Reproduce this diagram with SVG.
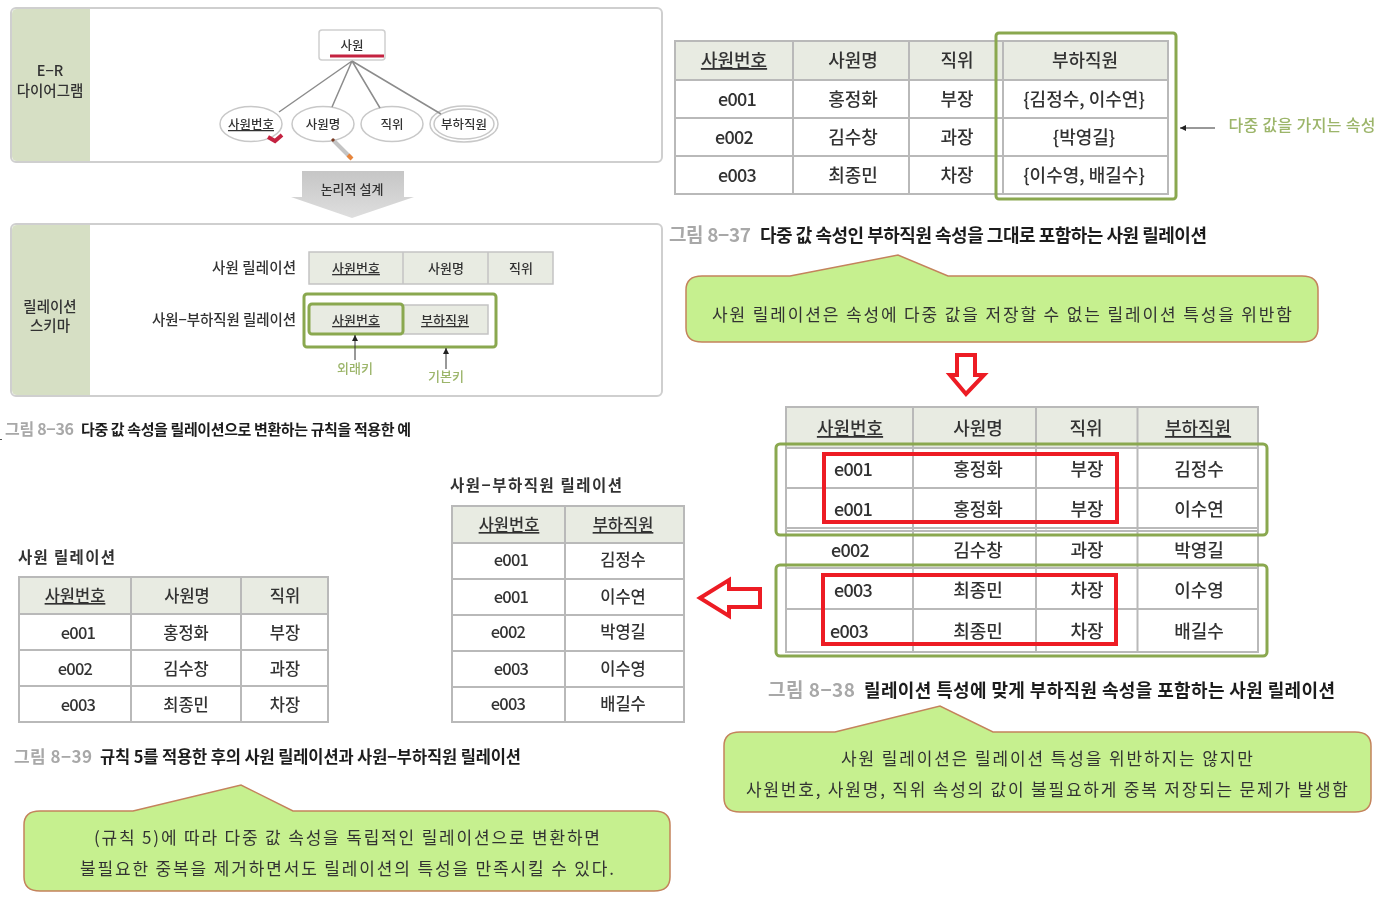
<svg xmlns="http://www.w3.org/2000/svg" width="1382" height="904" viewBox="0 0 1382 904">
<style>
text{font-family:"Noto Sans CJK KR","Noto Sans",sans-serif;fill:#333;text-anchor:middle}
.panel{fill:#fff;stroke:#cfcfcf;stroke-width:2}
.band{fill:#d6dfc4}
.hd{fill:#e8ebe2}
.grid{fill:none;stroke:#b9b9b9;stroke-width:2}
.green{fill:none;stroke:#8aa84f;stroke-width:3}
.red{fill:none;stroke:#ed1c24;stroke-width:4}
.redarrow{fill:#fff;stroke:#ed1c24;stroke-width:4}
.callout{fill:#c6f08f;stroke:#c4835c;stroke-width:1.5}
.fig{font-weight:700;fill:#a8a8a8;text-anchor:start}
.cap{font-weight:700;fill:#1e1e1e;text-anchor:start}
.t18{font-size:18px;font-weight:500}.t16{font-size:16.5px;font-weight:500}.t14{font-size:14.500px;font-weight:500}.t13{font-size:13px;font-weight:500}.t12{font-size:12.5px;font-weight:500}
.u{text-decoration:underline}
.l{text-anchor:start}.r{text-anchor:end}
.e{letter-spacing:-.8px}
.b{font-weight:700}
.hand{fill:#9cb56a;font-weight:500}
.conn{stroke:#8c8c8c;stroke-width:1.5;fill:none}
.attr{fill:#fff;stroke:#c8c8c8;stroke-width:1.5}
.arr{stroke:#333;stroke-width:1;fill:none;marker-end:url(#ah)}
.co{font-size:17px;fill:#333}
</style>
<defs>
<marker id="ah" markerWidth="7" markerHeight="7" refX="6" refY="3" orient="auto"><path d="M0 0L6 3L0 6Z" fill="#222"/></marker>
<linearGradient id="gd" x1="0" y1="0" x2="0" y2="1"><stop offset="0" stop-color="#c6c6c6"/><stop offset="1" stop-color="#dedede"/></linearGradient>
<filter id="soft" filterUnits="userSpaceOnUse" x="0" y="0" width="1382" height="904"><feGaussianBlur stdDeviation="0.4"/></filter>
</defs>
<rect width="1382" height="904" fill="#fff"/>
<g filter="url(#soft)">
<g id="er-panel">
<rect class="panel" x="11" y="8" width="651" height="154" rx="5"/>
<path class="band" d="M12 14Q12 9 17 9H90V161H17Q12 161 12 156Z"/>
<text class="t14" x="50" y="76">E−R</text>
<text class="t14" x="50" y="95.500">다이어그램</text>
</g>
<g id="entity">
<rect x="319" y="30" width="66" height="30" rx="3" fill="#fff" stroke="#cfcfcf" stroke-width="1.5"/>
<text class="t12" x="352" y="50">사원</text>
<path d="M330 56H384" stroke="#c4213f" stroke-width="3"/>
</g>
<g id="attr1">
<ellipse class="attr" cx="251" cy="124" rx="31" ry="17.5"/>
<text class="t12 u" x="251" y="129">사원번호</text>
<path d="M268 137L275 141L282 135" fill="none" stroke="#c4213f" stroke-width="4"/>
</g>
<g id="attr2">
<ellipse class="attr" cx="323" cy="124" rx="31" ry="17.5"/>
<text class="t12" x="323" y="129">사원명</text>
<path d="M333 140L351 158" stroke="#c4c4c4" stroke-width="4"/>
<path d="M348 155L352 159" stroke="#e8853a" stroke-width="4"/>
<path d="M332 139L334 141" stroke="#7a3a20" stroke-width="3"/>
</g>
<g id="attr3">
<ellipse class="attr" cx="392" cy="124" rx="31" ry="17.5"/>
<text class="t12" x="392" y="129">직위</text>
</g>
<g id="attr4">
<ellipse class="attr" cx="464" cy="124" rx="34" ry="18"/>
<ellipse class="attr" cx="464" cy="124" rx="30" ry="15"/>
<text class="t12" x="464" y="129">부하직원</text>
</g>
<g id="design-arrow">
<path d="M302 171H404V197H414L352 218L291 197H302Z" fill="url(#gd)"/>
<text class="t13" x="352" y="194">논리적 설계</text>
</g>

<g id="schema-panel">
<rect class="panel" x="11" y="224" width="651" height="172" rx="5"/>
<path class="band" d="M12 230Q12 225 17 225H90V395H17Q12 395 12 390Z"/>
<text class="t14" x="50" y="311.500">릴레이션</text>
<text class="t14" x="50" y="331">스키마</text>
<text class="t14 r" x="296" y="273" textLength="84">사원 릴레이션</text>
<text class="t14 r" x="296" y="325" textLength="144">사원−부하직원 릴레이션</text>
<rect class="hd" x="309" y="252" width="244" height="32"/>
<path class="grid" style="stroke-width:1.5;stroke:#c4c4c4" d="M309 252H553V284H309ZM403 252V284M488 252V284"/>
<text class="t13 u" x="356" y="273">사원번호</text>
<text class="t13" x="446" y="273">사원명</text>
<text class="t13" x="521" y="273">직위</text>
<rect class="hd" x="309" y="305" width="179" height="29"/>
<path class="grid" style="stroke-width:1.5;stroke:#c4c4c4" d="M403 305H488V334H403"/>
<text class="t13 u" x="356" y="325">사원번호</text>
<text class="t13 u" x="445" y="325">부하직원</text>
<rect class="green" x="304" y="294" width="192" height="53" rx="3"/>
<rect class="green" x="309" y="304" width="94" height="30" rx="3"/>
<text class="hand t13" x="355" y="373">외래키</text>
<text class="hand t13" x="446" y="381">기본키</text>
</g>
<g id="connectors">
<path class="conn" d="M352 61L279 112M352 61L332 107M352 61L380 108M352 61L441 114"/>
<path class="arr" d="M355 360V335"/>
<path class="arr" d="M446 369V348"/>
<path class="arr" d="M1215 128H1180"/>
</g>
<g id="caption-36">
<text class="fig" x="5" y="435" style="font-size:16px" textLength="69">그림 8−36</text>
<text class="cap" x="81" y="435" style="font-size:15px" textLength="330">다중 값 속성을 릴레이션으로 변환하는 규칙을 적용한 예</text>
<rect x="0" y="439" width="2" height="1" fill="#555"/>
</g>

<g id="table-37">
<rect class="hd" x="675" y="41" width="493" height="39"/>
<path class="grid" d="M675 41H1168V194H675ZM675 80H1168M675 118H1168M675 156H1168M793 41V194M909 41V194M1003 41V194"/>
<text class="t18 u" x="734" y="67">사원번호</text>
<text class="t18" x="853" y="67">사원명</text>
<text class="t18" x="957" y="67">직위</text>
<text class="t18" x="1085" y="67">부하직원</text>
<text class="t18 e" x="737" y="106">e001</text><text class="t18" x="853" y="106">홍정화</text><text class="t18" x="957" y="106">부장</text><text class="t18" x="1084" y="106">{김정수, 이수연}</text>
<text class="t18 e" x="734" y="144">e002</text><text class="t18" x="853" y="144">김수창</text><text class="t18" x="957" y="144">과장</text><text class="t18" x="1084" y="144">{박영길}</text>
<text class="t18 e" x="737" y="182">e003</text><text class="t18" x="853" y="182">최종민</text><text class="t18" x="957" y="182">차장</text><text class="t18" x="1084" y="182">{이수영, 배길수}</text>
<rect class="green" x="996" y="33" width="180" height="166" rx="3"/>
<text class="hand" x="1302" y="131" style="font-size:16px" textLength="147">다중 값을 가지는 속성</text>
</g>
<g id="caption-37">
<text class="fig" x="669" y="242" style="font-size:19px" textLength="82">그림 8−37</text>
<text class="cap" x="760" y="242" style="font-size:18px" textLength="447">다중 값 속성인 부하직원 속성을 그대로 포함하는 사원 릴레이션</text>
</g>
<g id="callout-1">
<path class="callout" d="M702 276H790L898 255L948 276H1302Q1318 276 1318 290V328Q1318 342 1302 342H702Q686 342 686 328V290Q686 276 702 276Z"/>
<text class="co" x="1002" y="321" textLength="580">사원 릴레이션은 속성에 다중 값을 저장할 수 없는 릴레이션 특성을 위반함</text>
</g>

<g id="table-38">
<rect class="hd" x="786" y="407" width="472" height="41"/>
<path class="grid" d="M786 407H1258V652H786ZM786 448H1258M786 488H1258M786 528H1258M786 531H1258M786 568H1258M786 609H1258M913 407V652M1036 407V652M1137.500 407V652"/>
<text class="t18 u" x="850" y="435">사원번호</text><text class="t18" x="978" y="435">사원명</text><text class="t18" x="1086" y="435">직위</text><text class="t18 u" x="1198" y="435">부하직원</text>
<text class="t18 e" x="853" y="476">e001</text><text class="t18" x="978" y="476">홍정화</text><text class="t18" x="1087" y="476">부장</text><text class="t18" x="1199" y="476">김정수</text>
<text class="t18 e" x="853" y="516">e001</text><text class="t18" x="978" y="516">홍정화</text><text class="t18" x="1087" y="516">부장</text><text class="t18" x="1199" y="516">이수연</text>
<text class="t18 e" x="850" y="557">e002</text><text class="t18" x="978" y="557">김수창</text><text class="t18" x="1087" y="557">과장</text><text class="t18" x="1199" y="557">박영길</text>
<text class="t18 e" x="853" y="597">e003</text><text class="t18" x="978" y="597">최종민</text><text class="t18" x="1087" y="597">차장</text><text class="t18" x="1199" y="597">이수영</text>
<text class="t18 e" x="849" y="638">e003</text><text class="t18" x="978" y="638">최종민</text><text class="t18" x="1087" y="638">차장</text><text class="t18" x="1199" y="638">배길수</text>
<rect class="green" x="776" y="444" width="491" height="91" rx="4"/>
<rect class="green" x="776" y="565" width="491" height="91" rx="4"/>
</g>
<g id="caption-38">
<text class="fig" x="768" y="697" style="font-size:19px" textLength="87">그림 8−38</text>
<text class="cap" x="864" y="697" style="font-size:18px" textLength="471">릴레이션 특성에 맞게 부하직원 속성을 포함하는 사원 릴레이션</text>
</g>
<g id="callout-2">
<path class="callout" d="M740 732H835L940 706L993 732H1355Q1371 732 1371 746V798Q1371 812 1355 812H740Q724 812 724 798V746Q724 732 740 732Z"/>
<text class="co" x="1047" y="765" textLength="412">사원 릴레이션은 릴레이션 특성을 위반하지는 않지만</text>
<text class="co" x="1047" y="796" textLength="602">사원번호, 사원명, 직위 속성의 값이 불필요하게 중복 저장되는 문제가 발생함</text>
</g>

<g id="table-emp">
<text class="l b" x="18" y="563" style="font-size:15.500px" textLength="97">사원 릴레이션</text>
<rect class="hd" x="19" y="577" width="309" height="37"/>
<path class="grid" d="M19 577H328V722H19ZM19 614H328M19 650H328M19 686H328M131 577V722M241 577V722"/>
<text class="t16 u" x="75" y="602">사원번호</text><text class="t16" x="187" y="602">사원명</text><text class="t16" x="285" y="602">직위</text>
<text class="t16 e" x="78" y="639">e001</text><text class="t16" x="186" y="639">홍정화</text><text class="t16" x="285" y="639">부장</text>
<text class="t16 e" x="75" y="675">e002</text><text class="t16" x="186" y="675">김수창</text><text class="t16" x="285" y="675">과장</text>
<text class="t16 e" x="78" y="711">e003</text><text class="t16" x="186" y="711">최종민</text><text class="t16" x="285" y="711">차장</text>
</g>
<g id="table-dep">
<text class="l b" x="450" y="491" style="font-size:15.500px" textLength="172">사원−부하직원 릴레이션</text>
<rect class="hd" x="452" y="506" width="232" height="37"/>
<path class="grid" d="M452 506H684V722H452ZM452 543H684M452 579H684M452 615H684M452 651H684M452 687H684M565 506V722"/>
<text class="t16 u" x="509" y="531">사원번호</text><text class="t16 u" x="623" y="531">부하직원</text>
<text class="t16 e" x="511" y="566">e001</text><text class="t16" x="623" y="566">김정수</text>
<text class="t16 e" x="511" y="603">e001</text><text class="t16" x="623" y="603">이수연</text>
<text class="t16 e" x="508" y="638">e002</text><text class="t16" x="623" y="638">박영길</text>
<text class="t16 e" x="511" y="675">e003</text><text class="t16" x="623" y="675">이수영</text>
<text class="t16 e" x="508" y="710">e003</text><text class="t16" x="623" y="710">배길수</text>
</g>
<g id="caption-39">
<text class="fig" x="14" y="763" style="font-size:17px" textLength="78">그림 8−39</text>
<text class="cap" x="100" y="763" style="font-size:16.500px" textLength="421">규칙 5를 적용한 후의 사원 릴레이션과 사원−부하직원 릴레이션</text>
</g>
<g id="callout-3">
<path class="callout" d="M40 811H133L241 785L293 811H654Q670 811 670 825V877Q670 891 654 891H40Q24 891 24 877V825Q24 811 40 811Z"/>
<text class="co" x="347" y="844" textLength="506">(규칙 5)에 따라 다중 값 속성을 독립적인 릴레이션으로 변환하면</text>
<text class="co" x="347" y="875" textLength="534">불필요한 중복을 제거하면서도 릴레이션의 특성을 만족시킬 수 있다.</text>
</g>
</g>
<g id="highlights">
<rect class="red" x="824" y="454" width="293" height="68"/>
<rect class="red" x="823" y="575" width="293" height="69"/>
<path id="arrow-down" class="redarrow" d="M957 355H975V375H984L966 394L950 375H957Z"/>
<path id="arrow-left" class="redarrow" d="M700 598L729 580V589H760V607H729V616Z"/>
</g>
</svg>
